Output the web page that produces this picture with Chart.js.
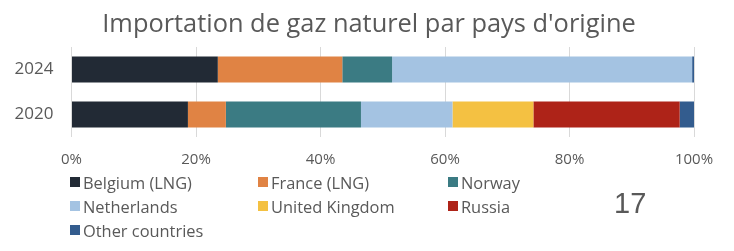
<!DOCTYPE html>
<html>
<head>
<meta charset="utf-8">
<script src="https://cdn.jsdelivr.net/npm/chart.js@4"></script>
<style>
  body { margin: 0; background: #fff; }
  #wrap { position: relative; width: 734px; height: 251px; font-family: 'Open Sans', sans-serif; color: #595959; }
  #title { position: absolute; left: 0; top: 4px; width: 738px; text-align: center; font-size: 25.4px; line-height: 36px; }
  #chartBox { position: absolute; left: 0; top: 0; width: 734px; height: 188px; }
  #legend { position: absolute; left: 70px; top: 172px; display: grid; grid-template-columns: 188px 190px 150px; row-gap: 4px; font-size: 16.4px; }
  .item { display: flex; align-items: center; height: 20px; white-space: nowrap; }
  .box { width: 10px; height: 10px; margin-right: 3px; }
  #page { position: absolute; left: 614px; top: 187px; font-family: 'Liberation Sans', sans-serif; font-size: 29px; color: #595959; }
</style>
</head>
<body>
<div id="wrap">
  <div id="chartBox"><canvas id="gas_chart"></canvas></div>
  <div id="title"></div>
  <div id="legend"></div>
  <div id="page">17</div>
</div>
<script>
const chartTitle = "Importation de gaz naturel par pays d'origine"
const years = ['2024', '2020']
const countries = ['Belgium (LNG)', 'France (LNG)', 'Norway', 'Netherlands', 'United Kingdom', 'Russia', 'Other countries']
const colors = ['#222a35', '#e08344', '#3b7b83', '#a4c3e2', '#f4c142', '#ae2318', '#335c8e']
// share in % for [2024, 2020]
const belgium = [23.5, 18.7]
const france = [20.0, 6.1]
const norway = [8.0, 21.7]
const netherlands = [48.2, 14.7]
const unitedKingdom = [0, 13.0]
const russia = [0, 23.5]
const others = [0.3, 2.3]
const xTicks = ['0%', '20%', '40%', '60%', '80%', '100%']

const values = [belgium, france, norway, netherlands, unitedKingdom, russia, others]

const datasets = countries.map((name, i) => {
  return {
    label: name,
    data: values[i],
    backgroundColor: colors[i],
    borderWidth: 0,
    categoryPercentage: 0.58,
    barPercentage: 1,
  }
})

document.getElementById('title').textContent = chartTitle

const legendEl = document.getElementById('legend')
countries.forEach((name, i) => {
  const item = document.createElement('div')
  item.className = 'item'
  item.innerHTML = '<span class="box" style="background:' + colors[i] + '"></span>' + name
  legendEl.appendChild(item)
})

const ctx = document.getElementById('gas_chart').getContext('2d')
new Chart(ctx, {
  type: 'bar',
  data: { labels: years, datasets: datasets },
  options: {
    indexAxis: 'y',
    animation: false,
    responsive: true,
    maintainAspectRatio: false,
    layout: { padding: { left: 0, right: 40, top: 47, bottom: 6 } },
    plugins: {
      legend: { display: false },
      tooltip: { enabled: false },
    },
    scales: {
      x: {
        stacked: true,
        min: 0,
        max: 100,
        border: { display: false },
        grid: { color: '#d9d9d9', drawTicks: false },
        ticks: {
          stepSize: 20,
          padding: 13.5,
          color: '#595959',
          font: { size: 15, family: 'Open Sans' },
          callback: (v, i) => xTicks[i],
        },
      },
      y: {
        stacked: true,
        border: { display: false },
        grid: { display: false },
        ticks: { color: '#595959', padding: 10, font: { size: 17, family: 'Open Sans' } },
        afterFit: (scale) => { scale.width = 71.5 },
      },
    },
  },
})
</script>
</body>
</html>
